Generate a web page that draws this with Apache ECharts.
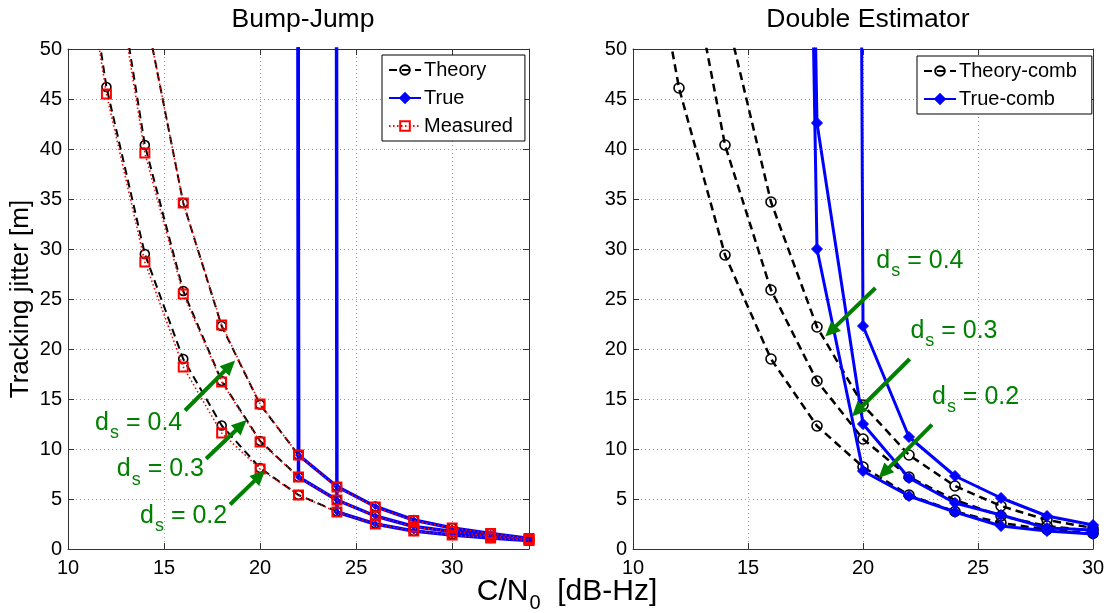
<!DOCTYPE html>
<html><head><meta charset="utf-8">
<script src="https://cdn.jsdelivr.net/npm/echarts@6/dist/echarts.min.js"></script>
<style>html,body{margin:0;padding:0;background:#fff}#c{width:1112px;height:613px}</style>
</head><body><div id="c"></div>
<script>
// ---------- data ----------
const cn0Left  = [10,12,14,16,18,20,22,24,26,28,30,32,34];
const cn0Right = [10,12,14,16,18,20,22,24,26,28,30];
const yTicks = [0,5,10,15,20,25,30,35,40,45,50];

// Bump-Jump (left)
const theory02   = [71.5,46.2,29.5,19.0,12.35,8.1,5.4,3.75,2.55,1.8,1.45,1.1,0.85];
const theory03   = [null,64.4,40.4,25.8,16.8,10.8,7.2,4.9,3.3,2.25,1.75,1.3,0.95];
const theory04   = [null,null,54.0,34.6,22.3,14.45,9.4,6.25,4.25,2.9,2.1,1.55,1.05];
const measured02 = [70.0,45.5,28.7,18.2,11.6,8.0,5.4,3.7,2.5,1.8,1.4,1.1,0.85];
const measured03 = [null,63.5,39.6,25.5,16.7,10.7,7.2,4.9,3.3,2.2,1.75,1.3,0.95];
const measured04 = [null,null,54.0,34.6,22.4,14.5,9.4,6.2,4.2,2.85,2.1,1.55,1.05];
const true02     = [null,null,null,null,null,null,5000,3.7,2.5,1.8,1.4,1.1,0.85];
const true03     = [null,null,null,null,null,5000,7.2,4.9,3.3,2.25,1.75,1.3,0.95];
const true04     = [null,null,null,null,null,5000,9.4,6.25,4.25,2.9,2.1,1.55,1.05];

// Double Estimator (right)
const theoryComb02 = [71.5,46.1,29.4,19.0,12.3,8.2,5.4,3.75,2.6,1.95,1.55];
const theoryComb03 = [null,64.4,40.4,25.9,16.8,11.0,7.2,4.9,3.3,2.3,1.8];
const theoryComb04 = [null,null,54.0,34.7,22.2,14.4,9.4,6.3,4.3,2.9,2.1];
const trueComb02   = [null,null,null,300,30.0,7.8,5.3,3.7,2.3,1.8,1.5];
const trueComb03   = [null,null,null,300,42.6,12.5,7.1,4.6,3.4,2.1,1.9];
const trueComb04   = [null,null,null,null,1000,22.3,11.2,7.3,5.1,3.3,2.4];

// annotations (data coordinates)
const annotations = [
  {grid:0, label:'0.4', text:[11.41,11.68], from:[16.09,13.85], to:[18.7,18.85]},
  {grid:0, label:'0.3', text:[12.54,7.02],  from:[17.19,9.02],  to:[19.3,12.9]},
  {grid:0, label:'0.2', text:[13.75,2.35],  from:[18.44,4.45],  to:[20.26,7.85]},
  {grid:1, label:'0.4', text:[20.58,27.86], from:[20.54,26.1],  to:[18.36,21.26]},
  {grid:1, label:'0.3', text:[22.06,20.86], from:[22.03,19.0],  to:[19.52,13.26]},
  {grid:1, label:'0.2', text:[23.0,14.26],  from:[23.0,12.43],  to:[20.68,7.1]}
];

// ---------- chart ----------
const FONT = 'Liberation Sans, Arial, sans-serif';
const AX = '#333';
const GREEN = '#008000';
const pairs = (xs, ys) => xs.map((x,i)=>[x, ys[i]]);

function xAxes(grid, max) {
  const common = {gridIndex:grid, type:'value', min:10, max:max, interval:5,
    axisLine:{show:true, onZero:false, lineStyle:{color:AX, width:1}},
    axisTick:{show:true, inside:true, length:6, lineStyle:{color:AX}}};
  return [
    Object.assign({}, common, {position:'bottom',
      axisLabel:{fontSize:20, fontFamily:FONT, color:'#000', margin:9,
        formatter:v => (v % 5 === 0 ? String(v) : '')},
      splitLine:{show:true, lineStyle:{color:'#999', width:1, type:[1,3]}}}),
    Object.assign({}, common, {position:'top', axisLabel:{show:false}, splitLine:{show:false}})
  ];
}
function yAxes(grid, withName) {
  const common = {gridIndex:grid, type:'value', min:0, max:50, interval:5,
    axisLine:{show:true, onZero:false, lineStyle:{color:AX, width:1}},
    axisTick:{show:true, inside:true, length:6, lineStyle:{color:AX}}};
  const left = Object.assign({}, common, {position:'left',
      axisLabel:{fontSize:20, fontFamily:FONT, color:'#000', margin:6,
        formatter:v => (yTicks.indexOf(v) >= 0 ? String(v) : '')},
      splitLine:{show:true, lineStyle:{color:'#999', width:1, type:[1,3]}}});
  if (withName) {
    left.name = 'Tracking jitter [m]';
    left.nameLocation = 'middle';
    left.nameGap = 34;
    left.nameTextStyle = {fontSize:26, fontFamily:FONT, color:'#000'};
  }
  return [left, Object.assign({}, common, {position:'right', axisLabel:{show:false}, splitLine:{show:false}})];
}

function theory(name, xs, ys, xi, yi, lw, sz) {
  return {type:'line', name:name, xAxisIndex:xi, yAxisIndex:yi, data:pairs(xs, ys),
    symbol:'circle', symbolSize:sz, showAllSymbol:true,
    itemStyle:{color:'rgba(255,255,255,0)', borderColor:'#000', borderWidth:1.6},
    lineStyle:{color:'#000', width:lw, type:[8,5]}, z:2};
}
function truth(name, xs, ys, xi, yi, lw, sz, z) {
  return {type:'line', name:name, xAxisIndex:xi, yAxisIndex:yi, data:pairs(xs, ys),
    symbol:'diamond', symbolSize:sz, showAllSymbol:true,
    itemStyle:{color:'#0000ff', borderColor:'#0000ff', borderWidth:1},
    lineStyle:{color:'#0000ff', width:lw, type:'solid'}, z:z};
}
function measured(name, xs, ys, xi, yi) {
  return {type:'line', name:name, xAxisIndex:xi, yAxisIndex:yi, data:pairs(xs, ys),
    symbol:'rect', symbolSize:9, showAllSymbol:true,
    itemStyle:{color:'rgba(255,255,255,0)', borderColor:'#ff0000', borderWidth:2},
    lineStyle:{color:'#ff0000', width:1.6, type:[1.5,2.5]}, z:4};
}

const series = [
  theory('Theory', cn0Left, theory02, 0, 0, 2, 9),
  theory('Theory', cn0Left, theory03, 0, 0, 2, 9),
  theory('Theory', cn0Left, theory04, 0, 0, 2, 9),
  truth('True', cn0Left, true02, 0, 0, 3.5, 6, 3),
  truth('True', cn0Left, true03, 0, 0, 3.5, 6, 3),
  truth('True', cn0Left, true04, 0, 0, 3.5, 6, 3),
  measured('Measured', cn0Left, measured02, 0, 0),
  measured('Measured', cn0Left, measured03, 0, 0),
  measured('Measured', cn0Left, measured04, 0, 0),
  theory('Theory-comb', cn0Right, theoryComb02, 2, 2, 2.5, 10),
  theory('Theory-comb', cn0Right, theoryComb03, 2, 2, 2.5, 10),
  theory('Theory-comb', cn0Right, theoryComb04, 2, 2, 2.5, 10),
  truth('True-comb', cn0Right, trueComb02, 2, 2, 3, 11, 5),
  truth('True-comb', cn0Right, trueComb03, 2, 2, 3, 11, 5),
  truth('True-comb', cn0Right, trueComb04, 2, 2, 3, 11, 5)
];

const legendCommon = {orient:'vertical', itemWidth:32, itemHeight:12, itemGap:8,
  backgroundColor:'#fff', borderColor:'#000', borderWidth:1, borderRadius:0,
  textStyle:{fontSize:20, fontFamily:FONT, color:'#000', padding:[0,0,0,-2]},
  selectedMode:false, inactiveColor:'#000'};

const chart = echarts.init(document.getElementById('c'), null, {renderer:'canvas'});
chart.setOption({
  animation:false,
  backgroundColor:'#fff',
  textStyle:{fontFamily:FONT},
  title:[
    {text:'Bump-Jump', left:298, top:1, textAlign:'center',
     textStyle:{fontSize:26.5, fontWeight:'normal', fontFamily:FONT, color:'#000'}},
    {text:'Double Estimator', left:863, top:1, textAlign:'center',
     textStyle:{fontSize:26.5, fontWeight:'normal', fontFamily:FONT, color:'#000'}}
  ],
  grid:[
    {left:68, top:49, width:461, height:500, containLabel:false},
    {left:633, top:49, width:460, height:500, containLabel:false}
  ],
  xAxis: xAxes(0, 34).concat(xAxes(1, 30)),
  yAxis: yAxes(0, true).concat(yAxes(1, false)),
  legend:[
    Object.assign({}, legendCommon, {data:['Theory','True','Measured'], left:382, top:55, padding:[5,12,5,6]}),
    Object.assign({}, legendCommon, {data:['Theory-comb','True-comb'], left:917, top:56, padding:[5,15,5,6]})
  ],
  series: series
});

// ---------- annotations & shared x label ----------
const graphics = [];
annotations.forEach(a => {
  const t = chart.convertToPixel({gridIndex:a.grid}, a.text);
  graphics.push({type:'text', x:t[0], y:t[1]-22, silent:true, z:20,
    style:{text:'{a|d}{b|s}{a| = ' + a.label + '}', align:'left', verticalAlign:'top',
      rich:{a:{fontSize:25, fontFamily:FONT, fill:GREEN, color:GREEN, verticalAlign:'top'},
            b:{fontSize:18, fontFamily:FONT, fill:GREEN, color:GREEN, verticalAlign:'top', padding:[14,0,0,1]}}}});
  const p0 = chart.convertToPixel({gridIndex:a.grid}, a.from);
  const p1 = chart.convertToPixel({gridIndex:a.grid}, a.to);
  const dx = p1[0]-p0[0], dy = p1[1]-p0[1];
  const len = Math.sqrt(dx*dx+dy*dy), ux = dx/len, uy = dy/len;
  const L = 15, W = 7;
  const bx = p1[0]-ux*L, by = p1[1]-uy*L;
  graphics.push({type:'line', silent:true, z:20,
    shape:{x1:p0[0], y1:p0[1], x2:bx+ux*2, y2:by+uy*2},
    style:{stroke:GREEN, lineWidth:4}});
  graphics.push({type:'polygon', silent:true, z:20,
    shape:{points:[[p1[0],p1[1]],[bx-uy*W, by+ux*W],[bx+uy*W, by-ux*W]]},
    style:{fill:GREEN}});
});
graphics.push({type:'text', x:567, y:577, silent:true,
  style:{text:'{a|C/N}{b|0}{a|  [dB-Hz]}', align:'center', verticalAlign:'top',
    rich:{a:{fontSize:30, fontFamily:FONT, fill:'#000', color:'#000', verticalAlign:'top'},
          b:{fontSize:20, fontFamily:FONT, fill:'#000', color:'#000', verticalAlign:'top', padding:[16,0,0,1]}}}});
chart.setOption({graphic:graphics});
</script>
</body></html>
